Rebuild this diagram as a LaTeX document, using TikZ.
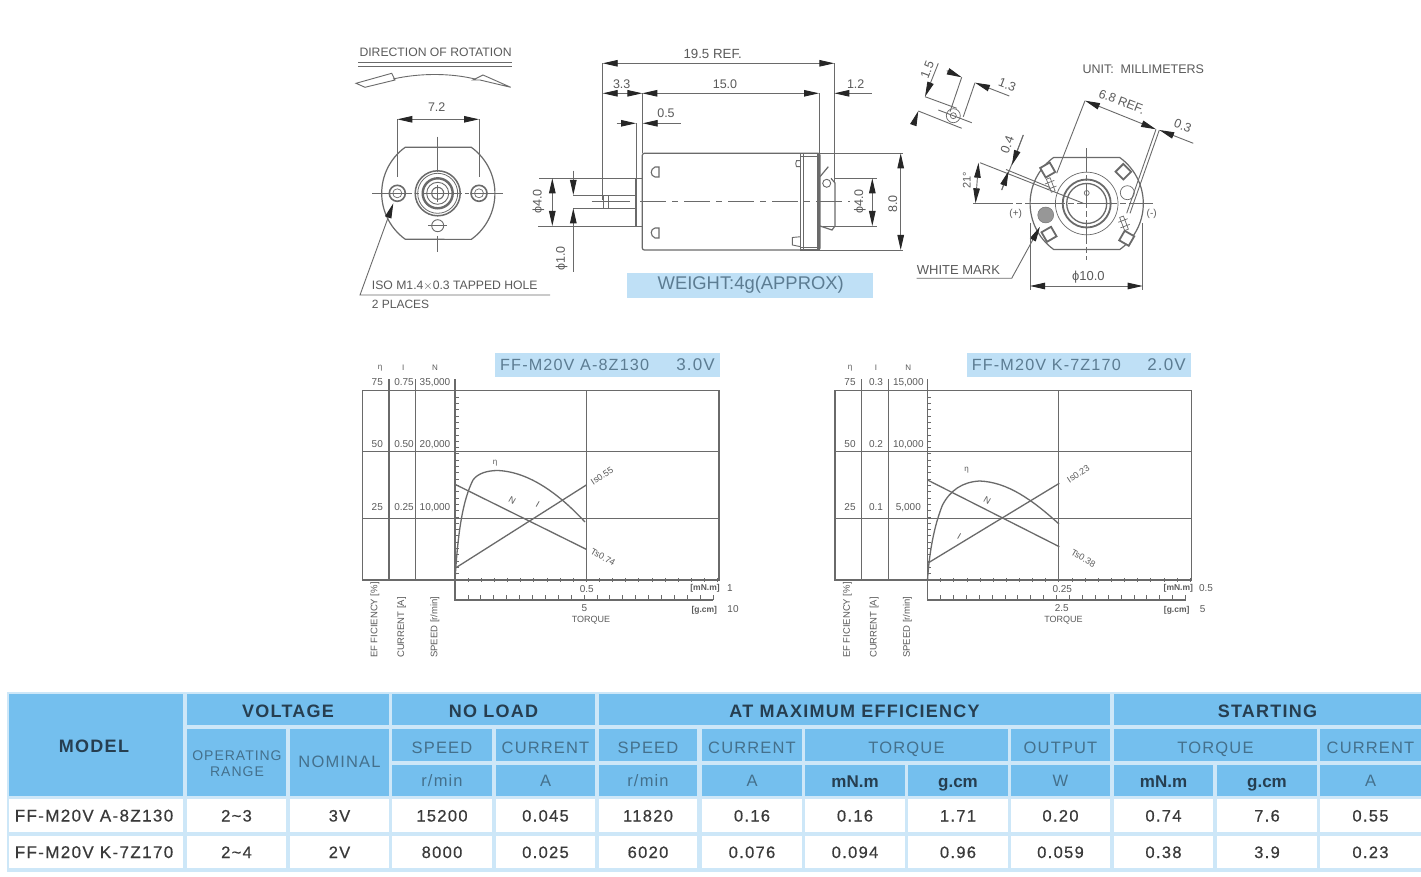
\documentclass[tikz,border=0pt]{standalone}
\usepackage{fontspec}
\setmainfont{Liberation Sans}
\newfontfamily\tblf[LetterSpace=7]{Liberation Sans}
\newfontfamily\dtf[LetterSpace=8,FakeBold=0.5]{Liberation Sans}
\usetikzlibrary{arrows.meta}
\definecolor{hdr}{HTML}{74BFEE}
\definecolor{gapc}{HTML}{CDE7F8}
\definecolor{tb}{HTML}{BFE0F6}
\definecolor{ink}{HTML}{6A6A6A}
\definecolor{txt}{HTML}{5A5A5A}
\definecolor{hdark}{HTML}{263E50}
\definecolor{hmid}{HTML}{44708C}
\definecolor{dtxt}{HTML}{3A3A3A}
\definecolor{titlec}{HTML}{5C7C92}
\newcommand\sz[1]{\fontsize{#1}{#1}\selectfont}
\tikzset{
  x=1pt,y=-1pt,
  tipa/.tip={Triangle[length=15pt,width=6.5pt,color=black!85,fill=black!85]},
  ln/.style={draw=ink,line width=0.9pt},
  thin2/.style={draw=ink,line width=0.7pt},
  thk/.style={draw=ink,line width=1.7pt},
  cl/.style={draw=ink,line width=0.8pt,dash pattern=on 26pt off 6pt on 6pt off 6pt},
  dimto/.style={ln,-tipa},
  dimboth/.style={ln,tipa-tipa},
  tx/.style={text=txt,inner sep=0pt,font=\sz{12.5}},
  small/.style={text=txt,inner sep=0pt,font=\sz{10}},
  tiny/.style={text=txt,inner sep=0pt,font=\sz{8}},
  vert/.style={text=txt,inner sep=0pt,font=\sz{9.5},rotate=90,anchor=west},
  grid/.style={draw=ink,line width=1.3pt},
  curve/.style={draw=ink,line width=1.3pt},
  cellt/.style={inner sep=0pt,anchor=base},
}
\newcommand\Cell[7]{\fill[#5] (#1,#2) rectangle (#3,#4);
  \node[cellt] at ({(#1+#3)/2},{(#2+#4)/2+#7}) {#6};}
\newcommand\Hd[1]{\tblf\bfseries\sz{18}\color{hdark}#1}
\newcommand\Hm[1]{\tblf\sz{16.5}\color{hmid}#1}
\newcommand\Hb[1]{\bfseries\sz{17}\color{hdark}#1}
\newcommand\Dt[1]{\dtf\sz{16.5}\color{dtxt}#1}
\newcommand\Dm[1]{\dtf\sz{17}\color{dtxt}#1}
% body outline of the motor end, centre #1,#2
\newcommand\Body[2]{\draw[ln,line width=1.2pt] (#1+33,#2-46) arc[start angle=54.3,end angle=-54.3,radius=56.7pt]
  -- (#1-33,#2+46) arc[start angle=234.3,end angle=125.7,radius=56.7pt] -- cycle;}
\newcommand\Pad[3]{\begin{scope}[shift={(#1,#2)},rotate=#3]
  \draw[draw=ink,line width=1.8pt,fill=white] (-5.5,-5.5) rectangle (5.5,5.5);\end{scope}}
\newcommand\Slot[3]{\begin{scope}[shift={(#1,#2)},rotate=#3]
  \draw[thin2] (-7,-2) rectangle (7,2); \draw[thin2] (-3,-5) -- (-3,5) (3,-5) -- (3,5);\end{scope}}
% common part of a chart
\newcommand\ChartFrame{%
  \draw[grid] (362.5,390.7) rectangle (719,580);
  \draw[grid] (362.5,451.7) -- (719,451.7) (362.5,518.3) -- (719,518.3);
  \draw[grid] (389,379) -- (389,580) (415.7,379) -- (415.7,580) (586.3,390.7) -- (586.3,580);
  \draw[grid] (455,379) -- (455,600) -- (713,600);
  \foreach \i in {0,...,30} \draw[thin2] (455,390.7+6.31*\i) -- (458.5,390.7+6.31*\i);
  \foreach \i in {0,...,20} \draw[thin2] (455+13.13*\i,578) -- (455+13.13*\i,582);
  \foreach \i in {0,...,20} \draw[thin2] (455+12.9*\i,600) -- (455+12.9*\i,595);
  \node[vert] at (375,658) {EF FICIENCY [\%]};
  \node[vert] at (401.7,658) {CURRENT [A]};
  \node[vert] at (435,658) {SPEED [r/min]};
  \node[tiny,font=\sz{9}] at (591,620) {TORQUE};
}
\begin{document}
\begin{tikzpicture}
\useasboundingbox (0,0) rectangle (1421,877);
\fill[white] (0,0) rectangle (1421,877);

%%%% LEFT VIEW
\node[tx,anchor=west,font=\sz{12.2}] (dir) at (359.3,52) {DIRECTION OF ROTATION};
\draw[thin2] (358,62.7) -- (511.7,62.7) (358,66) -- (511.7,66);
\draw[ln] (356,83.3) -- (391.7,73.3) -- (395,80) -- (365,87.3) -- cycle;
\draw[ln] (393,79) .. controls (420,73) and (450,73) .. (475,79);
\draw[ln] (473,80) -- (483,75) -- (510.7,87.3) -- (480,80) -- cycle;
\Body{438.3}{193.3}
\draw[ln,dash pattern=on 40pt off 3pt on 4pt off 3pt] (372,193.3) -- (503.3,193.3);
\draw[ln] (437.7,136.7) -- (437.7,171.7) (437.7,236) -- (437.7,252) (428,225.7) -- (447,225.7);
\foreach \r/\w in {22.5/1.5,20/0.8,15/2.4,11/0.9,6/1.1} \draw[draw=ink,line width=\w pt,fill=none] (437.7,193.3) circle (\r pt);
\draw[thin2] (437.7,185) -- (437.7,202);
\draw[ln,line width=1.6pt] (397.3,193.3) circle (8pt);
\draw[thin2] (397.3,193.3) circle (4.5pt);
\draw[ln,line width=1.6pt] (479,193.3) circle (8pt);
\draw[thin2] (479,193.3) circle (4.5pt);
\draw[ln] (437.7,225.7) circle (6pt);
\draw[ln] (397.3,119.3) -- (397.3,177) (479,119.3) -- (479,177);
\draw[dimboth] (397.3,119.3) -- (479,119.3);
\node[tx] (d72) at (436.7,107) {7.2};
\coordinate (isoa) at (393.3,203.3); \coordinate (isob) at (360,295); \coordinate (isoc) at (550,295);
\draw[dimto] (isoc) -- (isob) -- (isoa);
\node[tx,anchor=west,font=\sz{12.2}] (iso) at (371.7,285.5) {ISO M1.4$\times$0.3 TAPPED HOLE};
\node[tx,anchor=west,font=\sz{12}] (pl) at (371.7,304.5) {2 PLACES};

%%%% SIDE VIEW
\draw[ln] (602.7,63.3) -- (602.7,200) (642.3,93.3) -- (642.3,153) (819,93.3) -- (819,153) (834.3,63.3) -- (834.3,183);
\draw[dimboth] (602.7,63.3) -- (834.3,63.3);
\node[tx,font=\sz{13.3}] (d195) at (712.7,54) {19.5 REF.};
\draw[dimboth] (642.3,93.3) -- (819,93.3);
\node[tx] (d15) at (725,84) {15.0};
\node[tx] (d33) at (621.7,84.5) {3.3};
\draw[dimto] (625,93.3) -- (602.7,93.3);
\draw[dimto] (625,93.3) -- (642.3,93.3);
\draw[dimto] (871.7,93.3) -- (834.3,93.3);
\node[tx] (d12) at (855.7,84) {1.2};
\draw[ln] (636,123.3) -- (636,178);
\draw[dimto] (616.7,123.3) -- (636,123.3);
\draw[dimto] (680.7,123.3) -- (642.7,123.3);
\node[tx] (d05) at (666,113.5) {0.5};
% body
\draw[ln,line width=1.2pt,rounded corners=2pt] (642.3,153.3) -- (820,153.3) -- (820,250) -- (642.3,250) -- cycle;
\draw[ln] (539,178.3) -- (642,178.3) (538,226) -- (642,226);
\draw[thk] (636,178.3) -- (636,226);
\draw[ln] (573.3,195) -- (636,195) (573.3,208.3) -- (636,208.3);
\draw[thin2] (603,195.7) rectangle (608,208);
\draw[ln] (591.7,201.7) -- (630,201.7);
\draw[cl] (640,201.7) -- (850,201.7);
% flange
\draw[ln,line width=1.2pt] (800.7,153.3) rectangle (819,250);
\draw[ln] (803.3,153.3) -- (803.3,250) (817,153.3) -- (817,250) (800.7,156) -- (817,156) (800.7,247) -- (817,247);
\draw[ln] (800.7,160.7) -- (796.5,160.7) -- (795.7,163.7) -- (796.5,166.7) -- (800.7,166.7);
\draw[ln] (800.7,236.7) -- (792.3,237.5) -- (792.3,245) -- (800.7,246.7);
% terminal
\draw[ln,line width=1.2pt] (820,226) -- (832,230) -- (835,226) -- (835,183) -- (831,178.3) (820,176.7) -- (828.3,166.7);
\draw[ln] (826.7,183.3) circle (4pt);
\draw[ln] (823,226) -- (876.7,226) (835,178.3) -- (876.7,178.3);
% Phi dims
\draw[dimboth] (552.3,178.3) -- (552.3,226);
\node[tx,rotate=90] (dp1) at (538.3,201.7) {ϕ4.0};
\draw[dimto] (573.3,170.7) -- (573.3,195);
\draw[dimto] (573.3,271.7) -- (573.3,208.3);
\node[tx,rotate=90] (dp2) at (561.7,258.3) {ϕ1.0};
\draw[dimboth] (872.3,178.3) -- (872.3,226);
\node[tx,rotate=90] (dp3) at (860,201.7) {ϕ4.0};
\draw[ln] (820,153.3) -- (903.3,153.3) (820,250) -- (903.3,250);
\draw[dimboth] (900.7,153.3) -- (900.7,250);
\node[tx,rotate=90] (d80) at (892.7,204) {8.0};
% two marks on the can
\draw[ln,line width=1.1pt] (659,167) -- (655,167) .. controls (650,169) and (650,176) .. (655,177) -- (659,177) -- cycle;
\draw[ln,line width=1.1pt] (659,228) -- (655,228) .. controls (650,229) and (650,236) .. (655,238) -- (659,238) -- cycle;
% weight
\fill[tb] (627.3,273.3) rectangle (873.3,298.3);
\node[inner sep=0pt,text=titlec,font=\sz{18.4}] (wt) at (750.7,285) {WEIGHT:4g(APPROX)};

%%%% RIGHT VIEW
\node[tx,anchor=west,font=\sz{12.5}] (unit) at (1082.3,69.5) {UNIT:~~MILLIMETERS};
\Body{1086.7}{203.5}
\draw[ln,dash pattern=on 40pt off 3pt on 6pt off 3pt] (973.3,203.3) -- (1153.3,203.3);
\draw[ln,dash pattern=on 24pt off 3pt on 6pt off 3pt] (1086.7,148.3) -- (1086.7,260);
\draw[thin2] (1086.7,203.5) circle (31.3pt);
\draw[draw=ink,line width=1.8pt] (1086.7,203.5) circle (24pt);
\draw[draw=ink,line width=1.3pt] (1086.7,203.5) circle (20pt);
\draw[thin2] (1086.7,193) circle (2.5pt);
\Pad{1047.7}{170}{30}
\Pad{1123.3}{171.7}{-45}
\Pad{1049}{234.3}{30}
\Pad{1126.7}{238.3}{-30}
\Slot{1050.7}{185}{-69}
\Slot{1124}{223.3}{-69}
\draw[draw=ink,fill=ink!70] (1045.7,215) circle (8pt);
\draw[thin2] (1127.3,192.7) circle (7pt);
\node[tx,font=\sz{10}] (pl1) at (1015.7,214) {(+)};
\node[tx,font=\sz{10}] (mn1) at (1151.7,214) {(-)};
\node[tx,anchor=west,font=\sz{13}] (wm) at (916.7,270) {WHITE MARK};
\coordinate (wa) at (916.7,278.3); \coordinate (wb) at (1011.7,278.3); \coordinate (wc) at (1040,226.7);
\draw[dimto] (wa) -- (wb) -- (wc);
\draw[ln] (1030,223) -- (1030,290) (1142.7,223) -- (1142.7,290);
\draw[dimboth] (1030,286) -- (1142.7,286);
\node[tx,font=\sz{13}] (d10) at (1088.3,276.7) {ϕ10.0};
% angle & 0.4
\draw[ln] (980,162.7) -- (1083.3,203.3) (1006,169.5) -- (1050,187.5);
\draw[ln] (1023.3,135) -- (1001.7,190);
\draw[dimboth] (978.5,162.7) -- (975.5,203.3);
\node[tx,rotate=90,font=\sz{11}] (d21) at (966.7,180) {21°};
\draw[dimto] (1023.3,135) -- (1012,165);
\draw[dimto] (1001.7,190) -- (1008.5,171);
\node[tx,rotate=69] (d04) at (1007.3,145) {0.4};
% 6.8 REF
\draw[ln] (1085,100.7) -- (1056.7,173.3) (1156,129.3) -- (1126.7,213.3) (1159.3,130) -- (1130,213.3);
\draw[dimboth] (1085,100.7) -- (1156,129.3);
\draw[dimto] (1193.3,143.3) -- (1159.3,130);
\node[tx,rotate=-21] (d68) at (1121.7,101.7) {6.8 REF.};
\node[tx,rotate=-21] (d03) at (1182.7,126) {0.3};
% hole detail
\draw[thin2] (953.3,115.7) circle (7pt);
\draw[thin2] (953.3,115.7) circle (3pt);
\draw[ln] (938.3,110) -- (971.7,122.7);
\draw[ln] (925,96.7) -- (956.7,108.3) (918.3,111) -- (961.7,128.3);
\draw[ln] (961.7,77.3) -- (950,111.7) (975,82.7) -- (963.3,116.7);
\draw[dimto] (938.3,63.3) -- (925,96.7);
\draw[dimto] (913.3,125) -- (918.3,111);
\node[tx,rotate=69] (d15b) at (927.3,70) {1.5};
\draw[dimto] (946.7,70.7) -- (961.7,77.3);
\draw[dimto] (1009.3,96) -- (975,82.7);
\node[tx,rotate=-21] (d13) at (1007.3,85) {1.3};

%%%% CHART 1
\fill[tb] (495,352.7) rectangle (719.7,376.7);
\node[inner sep=0pt,text=titlec,font=\tblf\sz{16.2},anchor=west] (t1) at (500,365) {FF-M20V A-8Z130};
\node[inner sep=0pt,text=titlec,font=\tblf\sz{17},anchor=east] (v1) at (715,365) {3.0V};
\ChartFrame
\node[tiny] at (380,368) {η}; \node[tiny] at (403.3,368) {I}; \node[tiny] at (435,368) {N};
\node[small] at (377.3,382.5) {75}; \node[small] at (404,382.5) {0.75}; \node[small] at (435,382.5) {35,000};
\node[small] at (377.3,444.5) {50}; \node[small] at (404,444.5) {0.50}; \node[small] at (435,444.5) {20,000};
\node[small] at (377.3,507.5) {25}; \node[small] at (404,507.5) {0.25}; \node[small] at (435,507.5) {10,000};
\draw[curve] (455,580) .. controls (458,530) and (463,500) .. (473,480) .. controls (478,473) and (488,470.5) .. (498,470.5) .. controls (530,472) and (560,495) .. (585,522);
\draw[curve] (455,484.3) -- (586.3,549.3);
\draw[curve] (455,568.3) -- (586.3,485);
\node[tiny] at (495,463) {η};
\node[tiny,rotate=-30,font=\sz{9}] at (512.3,500.7) {N};
\node[tiny,rotate=-30,font=\sz{9}] at (537.7,504) {I};
\node[tiny,rotate=33,font=\sz{9}] at (602,476) {Is0.55};
\node[tiny,rotate=-30,font=\sz{9}] at (603,557) {Ts0.74};
\node[small] at (586.7,589.3) {0.5};
\node[small] at (584.3,608.3) {5};
\node[tiny,font=\bfseries\sz{8.5}] at (705,588.3) {[mN.m]};
\node[small] at (730,588.3) {1};
\node[tiny,font=\bfseries\sz{8.5}] at (704.3,610) {[g.cm]};
\node[small] at (733,609.3) {10};

%%%% CHART 2
\begin{scope}[xshift=472.5pt]
\fill[tb] (494.2,352.7) rectangle (718.2,376.7);
\node[inner sep=0pt,text=titlec,font=\tblf\sz{16.2},anchor=west] (t2) at (499.2,365) {FF-M20V K-7Z170};
\node[inner sep=0pt,text=titlec,font=\tblf\sz{17},anchor=east] (v2) at (713.5,365) {2.0V};
\ChartFrame
\node[tiny] at (377.5,368) {η}; \node[tiny] at (403.5,368) {I}; \node[tiny] at (435.8,368) {N};
\node[small] at (377.5,382.5) {75}; \node[small] at (403.5,382.5) {0.3}; \node[small] at (435.8,382.5) {15,000};
\node[small] at (377.5,444.5) {50}; \node[small] at (403.5,444.5) {0.2}; \node[small] at (435.8,444.5) {10,000};
\node[small] at (377.5,507.5) {25}; \node[small] at (403.5,507.5) {0.1}; \node[small] at (435.8,507.5) {5,000};
\draw[curve] (455,580) .. controls (457,550) and (462,525) .. (470,505) .. controls (478,490) and (490,482) .. (507,481) .. controls (535,482) and (560,500) .. (586.5,524);
\draw[curve] (455,480) -- (586.8,546.7);
\draw[curve] (455,563.3) -- (586.8,483.3);
\node[tiny] at (494.2,470) {η};
\node[tiny,rotate=-30,font=\sz{9}] at (514.8,500) {N};
\node[tiny,rotate=-30,font=\sz{9}] at (486.8,536) {I};
\node[tiny,rotate=33,font=\sz{9}] at (605.8,474) {Is0.23};
\node[tiny,rotate=-30,font=\sz{9}] at (610.8,558.3) {Ts0.38};
\node[small] at (589.8,589.3) {0.25};
\node[small] at (589.2,608.3) {2.5};
\node[tiny,font=\bfseries\sz{8.5}] at (705.8,588.3) {[mN.m]};
\node[small] at (733.5,588.3) {0.5};
\node[tiny,font=\bfseries\sz{8.5}] at (704.2,610) {[g.cm]};
\node[small] at (730.2,609.3) {5};
\end{scope}

%%%% TABLE
\fill[gapc] (7,692) rectangle (1421,872);
\Cell{9}{694}{179}{796}{hdr}{\Hd{MODEL}}{7}
\fill[hdr] (179,694) rectangle (183,796);
\Cell{187}{694}{389}{725}{hdr}{\Hd{VOLTAGE}}{8}
\Cell{392}{694}{595}{725}{hdr}{\Hd{NO LOAD}}{8}
\Cell{599}{694}{1110}{725}{hdr}{\Hd{AT MAXIMUM EFFICIENCY}}{8}
\Cell{1114}{694}{1421}{725}{hdr}{\Hd{STARTING}}{8}
\fill[hdr] (187,729) rectangle (286,796);
\node[cellt] at (237,760) {\tblf\sz{14}\color{hmid}OPERATING};
\node[cellt] at (237,776) {\tblf\sz{14}\color{hmid}RANGE};
\Cell{290}{729}{389}{796}{hdr}{\Hm{NOMINAL}}{5}
\Cell{392}{729}{492}{761}{hdr}{\Hm{SPEED}}{8}
\Cell{496}{729}{595}{761}{hdr}{\Hm{CURRENT}}{8}
\Cell{599}{729}{697}{761}{hdr}{\Hm{SPEED}}{8}
\Cell{702}{729}{802}{761}{hdr}{\Hm{CURRENT}}{8}
\Cell{805}{729}{1008}{761}{hdr}{\Hm{TORQUE}}{8}
\Cell{1011}{729}{1110}{761}{hdr}{\Hm{OUTPUT}}{8}
\Cell{1114}{729}{1317}{761}{hdr}{\Hm{TORQUE}}{8}
\Cell{1320}{729}{1421}{761}{hdr}{\Hm{CURRENT}}{8}
\Cell{392}{765}{492}{796}{hdr}{\Hm{r/min}}{6}
\Cell{496}{765}{595}{796}{hdr}{\Hm{A}}{6}
\Cell{599}{765}{697}{796}{hdr}{\Hm{r/min}}{6}
\Cell{702}{765}{802}{796}{hdr}{\Hm{A}}{6}
\Cell{805}{765}{905}{796}{hdr}{\Hb{mN.m}}{7}
\Cell{908}{765}{1008}{796}{hdr}{\Hb{g.cm}}{7}
\Cell{1011}{765}{1110}{796}{hdr}{\Hm{W}}{6}
\Cell{1114}{765}{1213}{796}{hdr}{\Hb{mN.m}}{7}
\Cell{1217}{765}{1317}{796}{hdr}{\Hb{g.cm}}{7}
\Cell{1320}{765}{1421}{796}{hdr}{\Hm{A}}{6}
\foreach \ya/\yb/\m/\op/\nom/\sa/\ca/\sb/\cb/\ta/\tb/\ou/\tc/\td/\ce in {
  799/832/FF-M20V A-8Z130/2\textasciitilde3/3V/15200/0.045/11820/0.16/0.16/1.71/0.20/0.74/7.6/0.55,
  836/868/FF-M20V K-7Z170/2\textasciitilde4/2V/8000/0.025/6020/0.076/0.094/0.96/0.059/0.38/3.9/0.23}{
  \fill[white] (179,\ya) rectangle (183,\yb);
  \Cell{9}{\ya}{179}{\yb}{white}{\Dm{\m}}{6}
  \Cell{187}{\ya}{286}{\yb}{white}{\Dt{\op}}{6}
  \Cell{290}{\ya}{389}{\yb}{white}{\Dt{\nom}}{6}
  \Cell{392}{\ya}{492}{\yb}{white}{\Dt{\sa}}{6}
  \Cell{496}{\ya}{595}{\yb}{white}{\Dt{\ca}}{6}
  \Cell{599}{\ya}{697}{\yb}{white}{\Dt{\sb}}{6}
  \Cell{702}{\ya}{802}{\yb}{white}{\Dt{\cb}}{6}
  \Cell{805}{\ya}{905}{\yb}{white}{\Dt{\ta}}{6}
  \Cell{908}{\ya}{1008}{\yb}{white}{\Dt{\tb}}{6}
  \Cell{1011}{\ya}{1110}{\yb}{white}{\Dt{\ou}}{6}
  \Cell{1114}{\ya}{1213}{\yb}{white}{\Dt{\tc}}{6}
  \Cell{1217}{\ya}{1317}{\yb}{white}{\Dt{\td}}{6}
  \Cell{1320}{\ya}{1421}{\yb}{white}{\Dt{\ce}}{6}
}
\end{tikzpicture}
\end{document}
